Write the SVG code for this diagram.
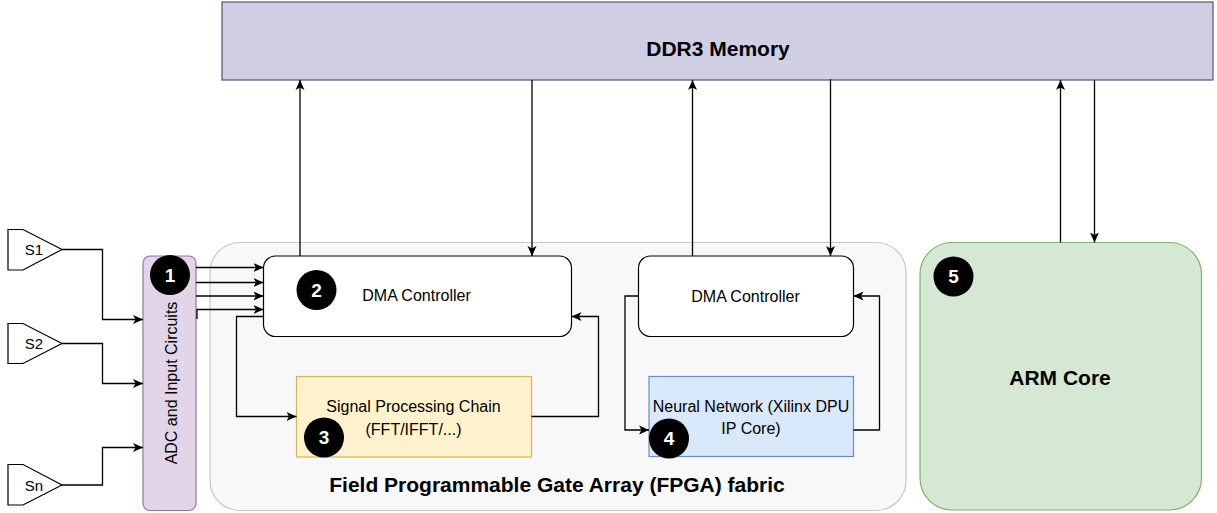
<svg xmlns="http://www.w3.org/2000/svg" width="1217" height="513" viewBox="0 0 1217 513">
<defs>
<marker id="arr" viewBox="0 0 10 10" refX="10" refY="5" markerWidth="10" markerHeight="10" markerUnits="userSpaceOnUse" orient="auto">
<path d="M0,0.5 L10,5 L0,9.5 L2.5,5 Z" fill="#000"/>
</marker>
<style>
.t{font-family:"Liberation Sans",Arial,sans-serif;fill:#000;text-anchor:middle;dominant-baseline:central}
.b{font-weight:bold;font-size:21px}
.s{font-size:16px}
.p{font-size:15px}
.n{font-family:"Liberation Sans",Arial,sans-serif;fill:#fff;font-weight:bold;font-size:19px;text-anchor:middle;dominant-baseline:central}
.c{fill:none;stroke:#000;stroke-width:1.3;marker-end:url(#arr)}
</style>
</defs>
<rect width="1217" height="513" fill="#fff"/>
<g id="fpga">
<rect x="210" y="242.5" width="696" height="268" rx="30" fill="#f8f8f8" stroke="#c8c8c8" stroke-width="1.2"/>
<text class="t b" x="557" y="484">Field Programmable Gate Array (FPGA) fabric</text>
</g>
<g id="ddr3">
<rect x="222" y="2" width="991" height="78" fill="#d0cee2" stroke="#56517e" stroke-width="1.2"/>
<text class="t b" x="718" y="48">DDR3 Memory</text>
</g>
<g id="s1">
<path d="M8,229.5 L23,229.5 L62,249.5 L23,270 L8,270 Z" fill="#fff" stroke="#000" stroke-width="1.2"/>
<text class="t p" x="34" y="249.5">S1</text>
</g>
<g id="s2">
<path d="M8,323.5 L23,323.5 L62,343.5 L23,363.5 L8,363.5 Z" fill="#fff" stroke="#000" stroke-width="1.2"/>
<text class="t p" x="34" y="343.5">S2</text>
</g>
<g id="sn">
<path d="M8,464.5 L23,464.5 L62,485 L23,505 L8,505 Z" fill="#fff" stroke="#000" stroke-width="1.2"/>
<text class="t p" x="34" y="485">Sn</text>
</g>
<g id="adc">
<rect x="143" y="256" width="53" height="254.5" rx="7" fill="#e1d5e7" stroke="#9673a6" stroke-width="1.2"/>
<text class="t s" transform="translate(171,383) rotate(-90)" x="0" y="0">ADC and Input Circuits</text>
<circle cx="170" cy="275" r="20" fill="#000"/>
<text class="n" x="170" y="275">1</text>
</g>
<g id="dma1">
<rect x="263.5" y="256" width="308" height="80.5" rx="12" fill="#fff" stroke="#000" stroke-width="1.2"/>
<text class="t s" x="416.5" y="295.5">DMA Controller</text>
<circle cx="316.5" cy="290" r="20" fill="#000"/>
<text class="n" x="316.5" y="290">2</text>
</g>
<g id="spc">
<rect x="296.5" y="376.5" width="235" height="80.5" fill="#fff2cc" stroke="#d6b656" stroke-width="1.2"/>
<text class="t s" x="413.5" y="406.5">Signal Processing Chain</text>
<text class="t s" x="413.5" y="429">(FFT/IFFT/...)</text>
<circle cx="324" cy="437.5" r="20" fill="#000"/>
<text class="n" x="324" y="437.5">3</text>
</g>
<g id="dma2">
<rect x="638.5" y="256" width="215" height="80.5" rx="12" fill="#fff" stroke="#000" stroke-width="1.2"/>
<text class="t s" x="745.5" y="296">DMA Controller</text>
</g>
<g id="nn">
<rect x="649" y="376.5" width="204.5" height="80" fill="#dae8fc" stroke="#6c8ebf" stroke-width="1.2"/>
<text class="t s" x="751" y="406.5">Neural Network (Xilinx DPU</text>
<text class="t s" x="751" y="428.5">IP Core)</text>
<circle cx="669" cy="438.5" r="20" fill="#000"/>
<text class="n" x="669" y="438.5">4</text>
</g>
<g id="arm">
<rect x="920" y="242.5" width="281.5" height="267.5" rx="32" fill="#d5e8d4" stroke="#82b366" stroke-width="1.2"/>
<text class="t b" x="1060" y="377">ARM Core</text>
<circle cx="953.5" cy="276.5" r="20" fill="#000"/>
<text class="n" x="953.5" y="276.5">5</text>
</g>
<g id="connectors">
<path class="c" d="M62,249.5 H102.5 V319.5 H143"/>
<path class="c" d="M62,343.5 H102.5 V383.5 H143"/>
<path class="c" d="M62,485 H102.5 V447.5 H143"/>
<path class="c" d="M196,267.5 H263.5"/>
<path class="c" d="M196,282.5 H263.5"/>
<path class="c" d="M196,296 H263.5"/>
<path class="c" d="M197,319 V309.5 H263.5"/>
<path class="c" d="M263.5,316.5 H236.5 V416.5 H296.5"/>
<path class="c" d="M531.5,416.5 H598.5 V316.5 H571.5"/>
<path class="c" d="M300,256 V80"/>
<path class="c" d="M532,80 V256"/>
<path class="c" d="M638.5,296 H625 V430 H649"/>
<path class="c" d="M853.5,430 H879.5 V296 H853.5"/>
<path class="c" d="M692.5,256 V80"/>
<path class="c" d="M830,80 H830.5 V256"/>
<path class="c" d="M1060.5,242.5 V80"/>
<path class="c" d="M1094.5,80 V242.5"/>
</g>
</svg>
